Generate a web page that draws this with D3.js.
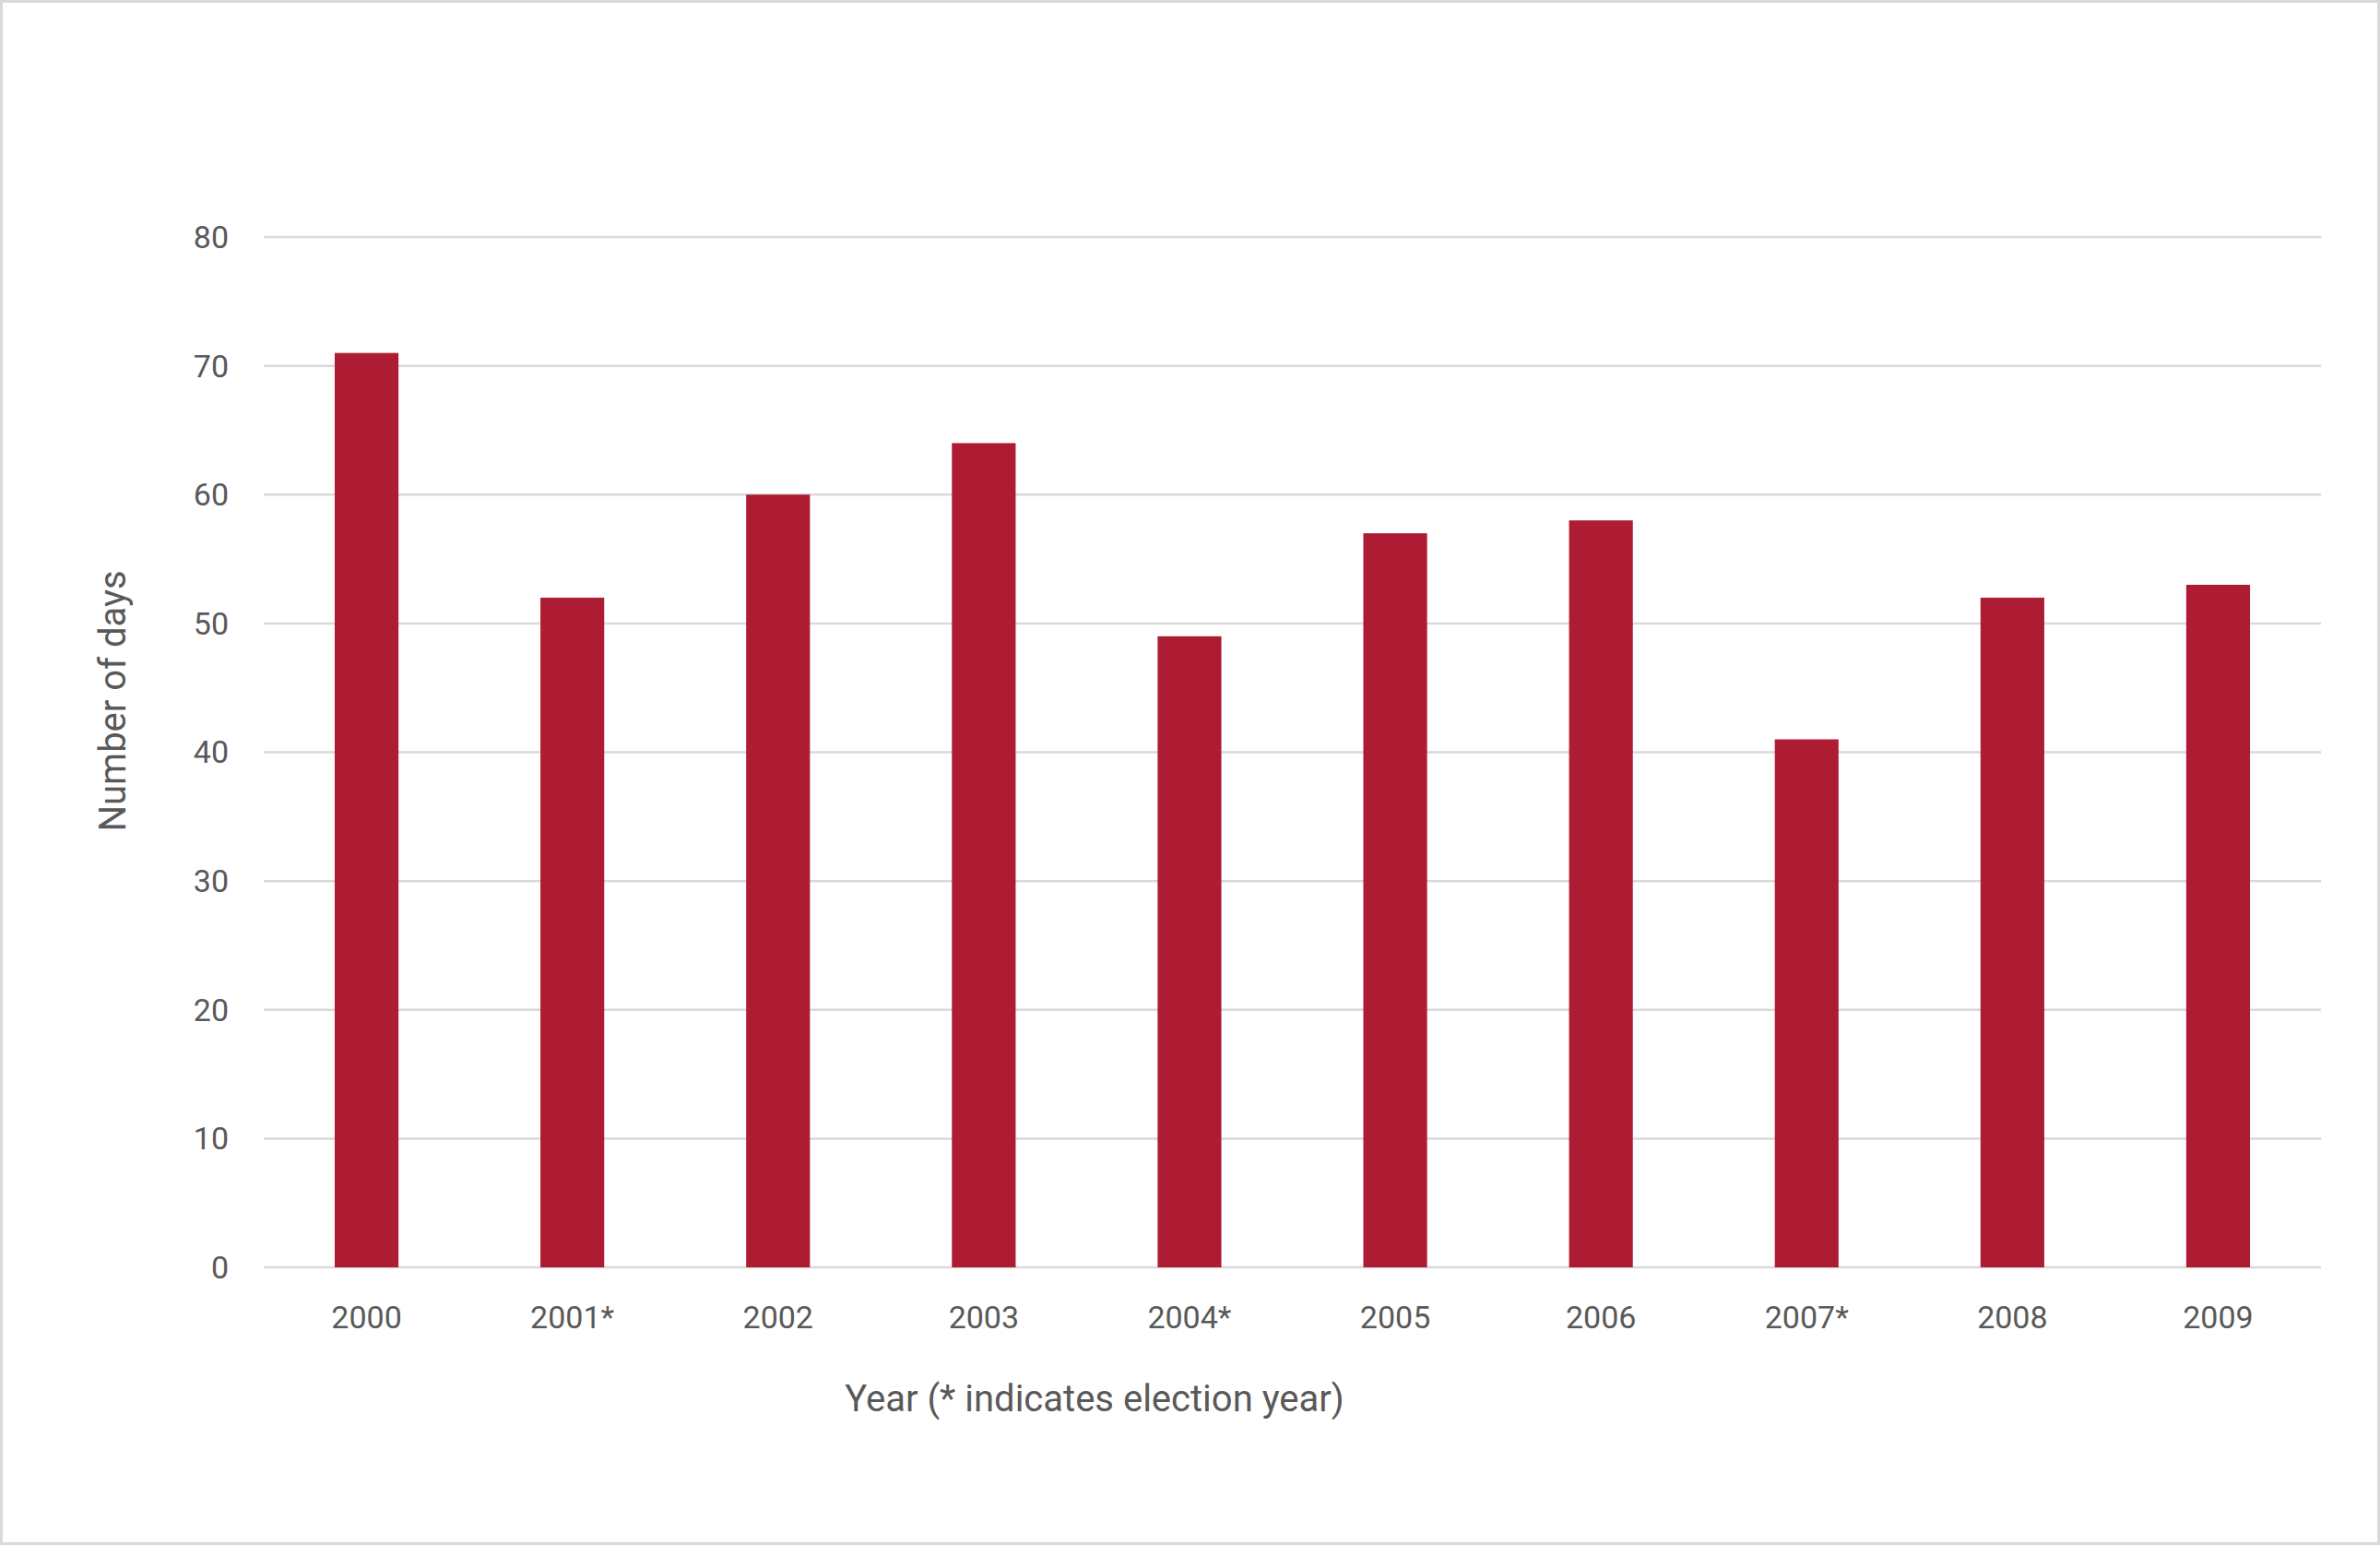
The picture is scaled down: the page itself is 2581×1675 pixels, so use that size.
<!DOCTYPE html>
<html><head><meta charset="utf-8">
<script src="https://cdn.jsdelivr.net/npm/d3@7"></script>
<style>body{margin:0;background:#fff}svg{display:block;font-family:Roboto,"Liberation Sans",sans-serif}</style>
</head><body><svg id="c" width="2581" height="1675"></svg>
<script>
const years = ["2000","2001*","2002","2003","2004*","2005","2006","2007*","2008","2009"];
const days = [71,52,60,64,49,57,58,41,52,53];
const yTicks = [0,10,20,30,40,50,60,70,80];

const svg = d3.select("#c");
const W = 2581, H = 1675;
svg.append("rect").attr("x",1.5).attr("y",1.5).attr("width",W-3).attr("height",H-3)
  .attr("fill","#fff").attr("stroke","#d9d9d9").attr("stroke-width",3);

const x = d3.scaleBand().domain(years).range([286,2517]).paddingInner(0.69).paddingOuter(0.345);
const y = d3.scaleLinear().domain([0,80]).range([1374,257]);

svg.selectAll(".grid").data(yTicks).enter().append("line")
  .attr("x1",286).attr("x2",2517).attr("y1",d=>y(d)).attr("y2",d=>y(d))
  .attr("stroke","#d9d9d9").attr("stroke-width",2.5);

svg.selectAll(".ytl").data(yTicks).enter().append("text")
  .attr("x",248).attr("y",d=>y(d)).attr("dy","0.35em").attr("text-anchor","end")
  .attr("font-size",34).attr("fill","#595959").text(d=>d);

svg.selectAll(".bar").data(days).enter().append("rect")
  .attr("x",(d,i)=>x(years[i])).attr("width",x.bandwidth())
  .attr("y",d=>y(d)).attr("height",d=>y(0)-y(d)).attr("fill","#AE1C33");

svg.selectAll(".xtl").data(years).enter().append("text")
  .attr("x",d=>x(d)+x.bandwidth()/2).attr("y",1440).attr("text-anchor","middle")
  .attr("font-size",34).attr("fill","#595959").text(d=>d);

svg.append("text").attr("x",1187).attr("y",1530).attr("text-anchor","middle")
  .attr("font-size",40).attr("fill","#595959").text("Year (* indicates election year)");
svg.append("text").attr("transform","translate(136,760) rotate(-90)").attr("text-anchor","middle")
  .attr("font-size",40).attr("fill","#595959").text("Number of days");
</script></body></html>
